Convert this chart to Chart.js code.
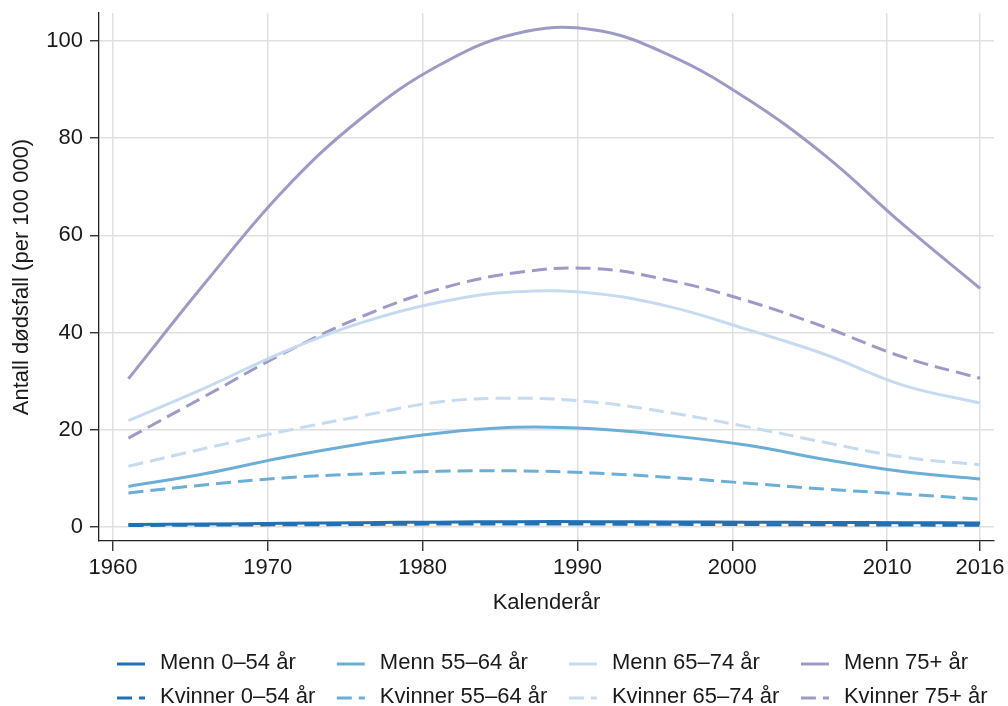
<!DOCTYPE html>
<html lang="no">
<head>
<meta charset="utf-8">
<title>Antall dødsfall per 100 000</title>
<script src="https://cdn.jsdelivr.net/npm/chart.js@4.4.1/dist/chart.umd.min.js"></script>
<style>
  html, body { margin: 0; padding: 0; background: #fff; }
  #wrap { width: 1008px; height: 706px; }
</style>
</head>
<body>
<div id="wrap"><canvas id="dodsChart" width="1008" height="706"></canvas></div>
<script>
// Kalenderår (hvert femte år) og glattede rater per 100 000
const years = [1961, 1966, 1971, 1976, 1981, 1986, 1991, 1996, 2001, 2006, 2011, 2016];

const menn0_54    = [0.5, 0.6, 0.75, 0.9, 1.0, 1.1, 1.1, 1.05, 1.0, 0.95, 0.9, 0.8];
const kvinner0_54 = [0.3, 0.38, 0.45, 0.52, 0.6, 0.62, 0.6, 0.55, 0.5, 0.45, 0.4, 0.35];
const menn55_64    = [8.35, 11.0, 14.3, 17.1, 19.3, 20.5, 20.2, 18.8, 16.8, 13.9, 11.4, 9.9];
const kvinner55_64 = [7.0, 8.7, 10.1, 10.9, 11.45, 11.55, 11.1, 10.2, 9.0, 7.8, 6.8, 5.75];
const menn65_74    = [21.9, 28.7, 36.0, 42.0, 46.2, 48.4, 48.1, 45.3, 40.6, 35.5, 29.2, 25.5];
const kvinner65_74 = [12.5, 16.2, 19.7, 22.8, 25.7, 26.5, 25.7, 23.5, 20.6, 17.4, 14.4, 12.8];
const menn75    = [30.5, 50.4, 69.2, 84.0, 94.9, 101.5, 102.3, 97.0, 88.0, 76.4, 62.3, 49.1];
const kvinner75 = [18.3, 27.0, 35.7, 43.2, 48.9, 52.3, 53.2, 50.7, 46.5, 41.1, 35.0, 30.6];

const xTicks = [1960, 1970, 1980, 1990, 2000, 2010, 2016];
const yTicks = [0, 20, 40, 60, 80, 100];

const FONT = "'Liberation Sans', Arial, Helvetica, sans-serif";
const TEXT = "#1a1a1a";

// lager {x, y} punkter for lineær x-akse
function points(values) {
    return years.map((yr, i) => ({ x: yr, y: values[i] }));
}

function serie(label, values, color, dashed) {
    return {
        label,
        data: points(values),
        borderColor: color,
        borderWidth: 3,
        borderDash: dashed ? [15, 7] : [],
        pointRadius: 0,
        fill: false,
        tension: 0.4
    };
}

// egen tegnforklaring: fire kolonner, menn øverst og kvinner under
const legendPlugin = {
    id: "toRadLegende",
    afterDraw(chart) {
        const ctx = chart.ctx;
        const sets = chart.data.datasets;
        ctx.save();
        ctx.font = "22px " + FONT;
        ctx.textBaseline = "middle";
        ctx.textAlign = "left";
        ctx.fillStyle = TEXT;
        let x = 117;
        for (let c = 0; c < sets.length / 2; c++) {
            let widest = 0;
            for (let r = 0; r < 2; r++) {
                const ds = sets[c * 2 + r];
                const y = r === 0 ? 663 : 697;
                ctx.strokeStyle = ds.borderColor;
                ctx.lineWidth = ds.borderWidth;
                ctx.setLineDash(ds.borderDash);
                ctx.beginPath();
                ctx.moveTo(x, y + 1);
                ctx.lineTo(x + 28, y + 1);
                ctx.stroke();
                ctx.fillText(ds.label, x + 43, y);
                widest = Math.max(widest, ctx.measureText(ds.label).width);
            }
            x += 43 + widest + 21.5;
        }
        ctx.restore();
    }
};

const ctx = document.getElementById("dodsChart").getContext("2d");

new Chart(ctx, {
    type: "line",
    data: {
        datasets: [
            serie("Menn 0–54 år", menn0_54, "#2171b5", false),
            serie("Kvinner 0–54 år", kvinner0_54, "#2171b5", true),
            serie("Menn 55–64 år", menn55_64, "#6baed6", false),
            serie("Kvinner 55–64 år", kvinner55_64, "#6baed6", true),
            serie("Menn 65–74 år", menn65_74, "#c6dbef", false),
            serie("Kvinner 65–74 år", kvinner65_74, "#c6dbef", true),
            serie("Menn 75+ år", menn75, "#9e9ac8", false),
            serie("Kvinner 75+ år", kvinner75, "#9e9ac8", true)
        ]
    },
    options: {
        responsive: false,
        animation: false,
        devicePixelRatio: 1,
        layout: { padding: { left: 0, top: 13, right: 14, bottom: 85 } },
        plugins: {
            legend: { display: false },
            tooltip: { enabled: false }
        },
        scales: {
            x: {
                type: "linear",
                min: 1959.1,
                max: 2016.9,
                afterBuildTicks: (axis) => { axis.ticks = xTicks.map(v => ({ value: v })); },
                afterFit: (axis) => {
                    axis.height = 80;
                    axis.paddingLeft = 0;
                    axis.paddingRight = 0;
                },
                ticks: {
                    autoSkip: false,
                    maxRotation: 0,
                    padding: 4,
                    color: TEXT,
                    font: { family: FONT, size: 22 },
                    callback: (v) => String(v)
                },
                grid: {
                    color: "#e0e0e0",
                    lineWidth: 1.5,
                    tickColor: "#222",
                    tickWidth: 1.3,
                    tickLength: 10
                },
                border: { color: "#222", width: 1.3 },
                title: {
                    display: true,
                    text: "Kalenderår",
                    color: TEXT,
                    font: { family: FONT, size: 22 },
                    padding: { top: 4, bottom: 5 }
                }
            },
            y: {
                min: -2.88,
                max: 105.76,
                afterBuildTicks: (axis) => { axis.ticks = yTicks.map(v => ({ value: v })); },
                afterFit: (axis) => {
                    axis.width = 99;
                    axis.paddingTop = 0;
                    axis.paddingBottom = 0;
                },
                ticks: {
                    padding: 7,
                    color: TEXT,
                    font: { family: FONT, size: 22 }
                },
                grid: {
                    color: "#e0e0e0",
                    lineWidth: 1.5,
                    tickColor: "#222",
                    tickWidth: 1.3,
                    tickLength: 9
                },
                border: { color: "#222", width: 1.3 },
                title: {
                    display: true,
                    text: "Antall dødsfall (per 100 000)",
                    color: TEXT,
                    font: { family: FONT, size: 22 },
                    padding: { top: 9, bottom: 4 }
                }
            }
        }
    },
    plugins: [legendPlugin]
});
</script>
</body>
</html>
